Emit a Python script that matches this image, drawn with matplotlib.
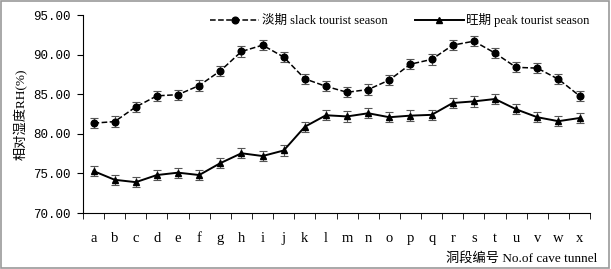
import numpy as np
import matplotlib
matplotlib.use('Agg')
import matplotlib.pyplot as plt

plt.rcParams['font.family'] = ['Liberation Serif', 'Noto Sans CJK SC']

# 洞段
cats = list('abcdefghijklmnopqrstuvwx')
# 淡期 slack tourist season
slack = [81.35, 81.55, 83.4, 84.8, 84.95, 86.1, 87.95, 90.4, 91.2, 89.7, 86.95, 86.0,
         85.25, 85.6, 86.8, 88.8, 89.4, 91.2, 91.7, 90.2, 88.4, 88.3, 86.9, 84.8]
# 旺期 peak tourist season
peak = [75.3, 74.2, 73.9, 74.8, 75.1, 74.8, 76.3, 77.55, 77.2, 77.9, 80.9, 82.35,
        82.2, 82.6, 82.1, 82.3, 82.4, 83.9, 84.1, 84.4, 83.1, 82.1, 81.6, 82.0]
slack_err = [0.65] * 24
peak_err = [0.65] * 24
yticks = [70, 75, 80, 85, 90, 95]

fig = plt.figure(figsize=(6.11, 2.69), dpi=100)
ax = fig.add_axes([0.1358, 0.208, 0.83, 0.736])
x = np.arange(len(cats))

ax.errorbar(x, slack, yerr=slack_err, fmt='none', ecolor='#555555', elinewidth=0.8, capsize=3, capthick=0.8, zorder=2)
ax.errorbar(x, peak, yerr=peak_err, fmt='none', ecolor='#555555', elinewidth=0.8, capsize=3, capthick=0.8, zorder=2)
ax.plot(x, slack, ls='--', color='black', lw=1.1, marker='o', ms=4.8, label='淡期 slack tourist season', zorder=3)
ax.plot(x, peak, ls='-', color='black', lw=1.4, marker='^', ms=4.8, label='旺期 peak tourist season', zorder=3)

ax.set_xlim(-0.5, len(cats) - 0.5)
ax.set_ylim(70, 95)
ax.set_yticks(yticks)
ax.set_yticklabels(['%.2f' % v for v in yticks], fontsize=9, family=['Liberation Mono'])
ax.set_xticks(x)
ax.set_xticklabels(cats, fontsize=10.5)
ax.set_xticks(np.arange(-0.5, len(cats)), minor=True)
ax.tick_params(axis='x', which='major', length=0, pad=14)
ax.tick_params(axis='x', which='minor', length=4, direction='out')
ax.tick_params(axis='y', length=4, direction='out', pad=5)
for s in ['top', 'right']:
    ax.spines[s].set_visible(False)

ax.set_ylabel('相对湿度RH(%)', fontsize=9.5)
ax.yaxis.set_label_coords(-0.108, 0.5)
fig.text(0.978, 0.015, '洞段编号 No.of cave tunnel', ha='right', va='bottom', fontsize=9.5)

ax.legend(loc='center', bbox_to_anchor=(0.625, 0.975), ncol=2, frameon=False, fontsize=9,
          handlelength=3.9, columnspacing=2.2, handletextpad=0.2, borderaxespad=0)

# 外框
fig.patches.append(plt.Rectangle((0.002, 0.004), 0.995, 0.992, transform=fig.transFigure,
                                 fill=False, edgecolor='#999999', lw=1.2))
fig.savefig('out.png', dpi=100)
